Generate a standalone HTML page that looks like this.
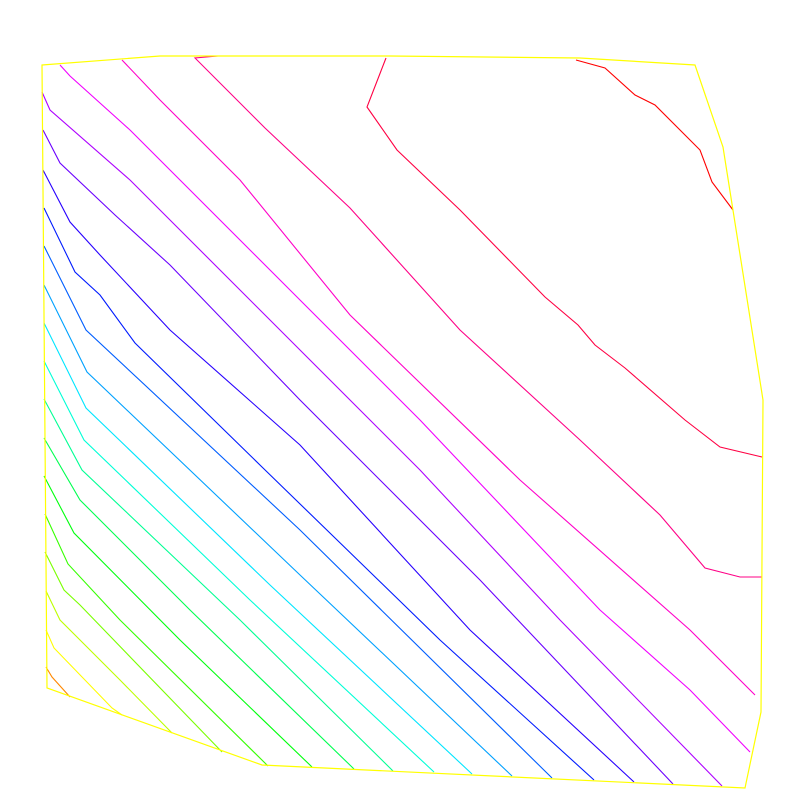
<!DOCTYPE html>
<html><head><meta charset="utf-8"><style>html,body{margin:0;padding:0;background:#fff}svg{display:block}</style></head>
<body>
<svg id="chart" width="806" height="806" viewBox="0 0 806 806" xmlns="http://www.w3.org/2000/svg">
<g id="lines"></g>
<polygon id="boundary" fill="none" stroke="#ffff00" stroke-width="1.2"></polygon>
</svg>
<script>
// contour levels (index) and their polylines in data coordinates (domain 0..806 each axis)
const levels = [0,1,2,3,4,5,6,7,8,9,10,11,12,13,14,15,16,17,18,19,20];
const boundaryPts = [[42,65],[160,56],[390,56],[580,58],[695,65],[723,147],[763,400],[761,712],[745,788],[262,765],[47,688]];
const c0=[[46,667],[52,677],[70,697]];
const c1=[[46,630],[54,648],[112,708],[122,715]];
const c2=[[46,591],[60,620],[120,680],[172,733]];
const c3=[[45,552],[64,590],[80,605],[222,752]];
const c4=[[45,514],[68,564],[120,620],[268,766]];
const c5=[[44,476],[74,533],[180,640],[312,767]];
const c6=[[44,438],[80,500],[190,610],[354,769]];
const c7=[[44,399],[82,470],[240,620],[393,771]];
const c8=[[44,361],[84,440],[250,600],[434,772]];
const c9=[[44,323],[86,408],[270,585],[472,774]];
const c10=[[44,285],[87,372],[300,575],[512,776]];
const c11=[[44,246],[86,330],[300,530],[552,778]];
const c12=[[44,208],[75,272],[100,295],[135,343],[262,467],[440,640],[594,780]];
const c13=[[43,170],[70,222],[100,255],[170,330],[300,445],[470,630],[634,782]];
const c14=[[43,130],[60,163],[115,215],[170,265],[300,400],[480,580],[673,784]];
const c15=[[42,92],[50,110],[130,180],[190,240],[300,350],[420,470],[560,620],[722,786]];
const c16=[[60,65],[70,76],[130,130],[200,200],[300,300],[420,420],[600,610],[690,690],[750,752]];
const c17=[[122,60],[160,100],[240,180],[350,315],[520,480],[690,630],[755,695]];
const c18=[[195,58],[218,56],[195,58],[265,128],[350,208],[460,330],[580,440],[660,515],[705,568],[740,577],[762,577]];
const c19=[[386,58],[367,107],[397,150],[460,210],[545,297],[578,325],[595,345],[625,368],[685,420],[720,447],[762,457]];
const c20=[[576,60],[605,68],[635,95],[655,105],[700,150],[712,182],[733,210]];
const contours=[c0,c1,c2,c3,c4,c5,c6,c7,c8,c9,c10,c11,c12,c13,c14,c15,c16,c17,c18,c19,c20];

const sx=v=>v*1.0, sy=v=>v*1.0;
const hue=l=>l===0?32:(44+l*15.8)%360;
const g=document.getElementById('lines');
const NS='http://www.w3.org/2000/svg';
contours.forEach((pts,i)=>{
  const p=document.createElementNS(NS,'polyline');
  p.setAttribute('points',pts.map(q=>sx(q[0])+','+sy(q[1])).join(' '));
  p.setAttribute('fill','none');
  p.setAttribute('stroke','hsl('+hue(levels[i])+',100%,50%)');
  p.setAttribute('stroke-width','1.1');
  
  
  g.appendChild(p);
});
document.getElementById('boundary').setAttribute('points',boundaryPts.map(q=>sx(q[0])+','+sy(q[1])).join(' '));
</script>
</body></html>
